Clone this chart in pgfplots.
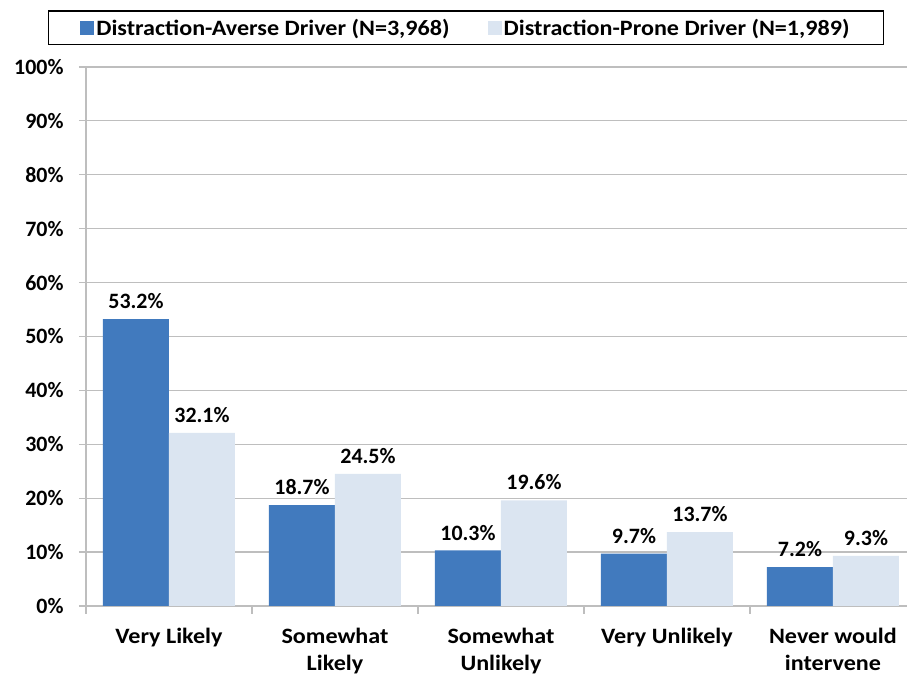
\documentclass[border=0pt]{standalone}
\usepackage{fontspec}
\setmainfont{Carlito}
\newfontfamily\widefont{Carlito}[FakeStretch=1.1]
\usepackage{pgfplots}
\pgfplotsset{compat=1.18}
\definecolor{bblue}{RGB}{65,122,190}
\definecolor{lblue}{RGB}{219,229,241}
\definecolor{gridgray}{RGB}{190,190,190}
\newcommand{\nf}{\fontsize{22}{28}\selectfont\bfseries}
\newcommand{\tf}{\widefont\fontsize{22}{27}\selectfont\bfseries}
\begin{document}
\begin{tikzpicture}
\useasboundingbox (0,0) rectangle (907bp,677bp);
\begin{axis}[
  at={(86bp,71bp)}, anchor=south west,
  width=821bp, height=539bp, scale only axis,
  xmin=-0.5, xmax=4.446, ymin=0, ymax=100,
  axis x line*=bottom, axis y line*=left,
  axis line style={gridgray, line width=1.2bp},
  ytick={0,10,...,100},
  yticklabel={\pgfmathprintnumber{\tick}\%},
  /pgf/number format/assume math mode=true,
  ymajorgrids, grid style={gridgray, line width=1.2bp},
  xtick={0,1,2,3,4},
  xticklabels={Very Likely, {Somewhat\\Likely}, {Somewhat\\Unlikely}, Very Unlikely, {Never would\\intervene}},
  xticklabel style={align=center, font=\tf, yshift=-12bp},
  yticklabel style={font=\nf, xshift=-12bp},
  every major x tick/.style={draw=none},
  minor xtick={-0.5,0.5,1.5,2.5,3.5},
  tick align=outside,
  major tick length=7bp, minor tick length=8bp,
  tick style={gridgray, line width=1.2bp},
  ybar, bar width=66bp,
  nodes near coords={\pgfmathprintnumber[fixed,fixed zerofill,precision=1]{\pgfplotspointmeta}\%},
  nodes near coords style={font=\nf, black, inner sep=0pt, anchor=south, yshift=10bp},
  legend columns=2,
  legend style={at={(0.4628,1.0724)}, anchor=center, draw=black, line width=1.2bp, font=\tf,
    inner xsep=32bp, inner ysep=6bp,
    /tikz/every even column/.append style={column sep=36bp}},
  legend image code/.code={\fill[#1] (4bp,-7bp) rectangle (18bp,7bp);},
]
\addplot[fill=bblue, draw=none, bar shift=-33bp] coordinates {(0,53.2) (1,18.7) (2,10.3) (3,9.7) (4,7.2)};
\addplot[fill=lblue, draw=none, bar shift=33bp] coordinates {(0,32.1) (1,24.5) (2,19.6) (3,13.7) (4,9.3)};
\legend{{Distraction-Averse Driver (N=3,968)}, {Distraction-Prone Driver (N=1,989)}}
\end{axis}
\end{tikzpicture}
\end{document}
